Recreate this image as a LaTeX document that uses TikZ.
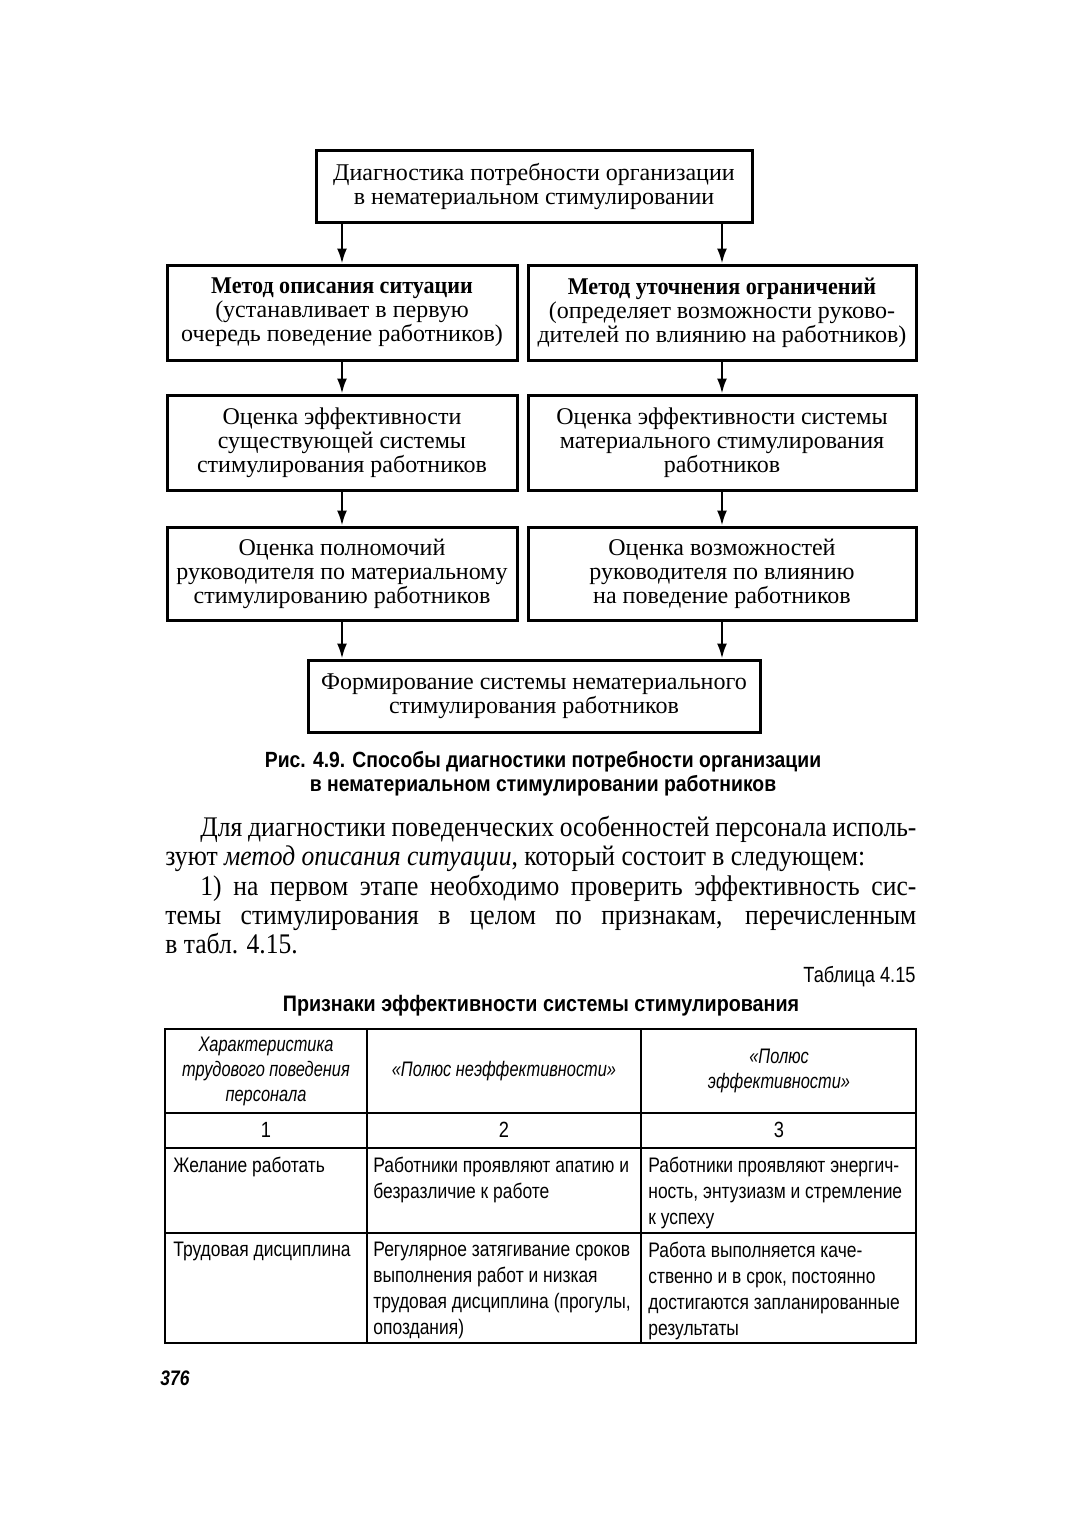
\documentclass[tikz,border=0pt]{standalone}
\usepackage{fontspec}
\setmainfont{Liberation Serif}[BoldFeatures={FakeStretch=0.92}]
\newfontfamily\bodyfont[FakeStretch=0.9]{Liberation Serif}
\newfontfamily\narrowsans[FakeStretch=0.83]{Liberation Sans}
\newfontfamily\headsans[FakeStretch=0.78]{Liberation Sans}
\newfontfamily\capsans[FakeStretch=0.88]{Liberation Sans}
\usetikzlibrary{arrows.meta}

\begin{document}
\begin{tikzpicture}[
x=0.5pt, y=-0.5pt,
box/.style={
draw,
line width=1.5pt,
align=center,
inner sep=0pt,
font=\fontsize{12}{12}\selectfont
},
flow/.style={-{Latex[length=7.5pt,width=5pt]}, line width=1.1pt},
textline/.style={anchor=base west, inner sep=0pt, font=\bodyfont\fontsize{14.2}{15}\selectfont},
cell/.style={anchor=north west, align=left, inner sep=0pt, font=\narrowsans\fontsize{10.5}{13}\selectfont},
headcell/.style={align=center, inner sep=0pt, font=\headsans\itshape\fontsize{10.5}{12.5}\selectfont}
]
\useasboundingbox (0,0) rectangle (1078,1532);

% scheme
\node[box, minimum width=218pt, minimum height=36pt] (T) at (534,186)
{Диагностика потребности организации\\в нематериальном стимулировании};

\node[box, minimum width=175pt, minimum height=47.5pt] (L1) at (342,312.5)
{\textbf{Метод описания ситуации}\\(устанавливает в первую\\очередь поведение работников)};

\node[box, minimum width=194pt, minimum height=47.5pt] (R1) at (722,312.5)
{\textbf{Метод уточнения ограничений}\\(определяет возможности руково-\\дителей по влиянию на работников)};

\node[box, minimum width=175pt, minimum height=47.5pt] (L2) at (342,442.5)
{Оценка эффективности\\существующей системы\\стимулирования работников};

\node[box, minimum width=194pt, minimum height=47.5pt] (R2) at (722,442.5)
{Оценка эффективности системы\\материального стимулирования\\работников};

\node[box, minimum width=175pt, minimum height=46.5pt] (L3) at (342,573.5)
{Оценка полномочий\\руководителя по материальному\\стимулированию работников};

\node[box, minimum width=194pt, minimum height=46.5pt] (R3) at (722,573.5)
{Оценка возможностей\\руководителя по влиянию\\на поведение работников};

\node[box, minimum width=226pt, minimum height=36pt] (F) at (534,696)
{Формирование системы нематериального\\стимулирования работников};

\draw[flow] (T.south -| L1.north) -- (L1.north);
\draw[flow] (T.south -| R1.north) -- (R1.north);
\draw[flow] (L1) -- (L2);
\draw[flow] (R1) -- (R2);
\draw[flow] (L2) -- (L3);
\draw[flow] (R2) -- (R3);
\draw[flow] (L3.south) -- (L3.south |- F.north);
\draw[flow] (R3.south) -- (R3.south |- F.north);

\node[align=center, inner sep=0pt, font=\capsans\bfseries\fontsize{11}{11.8}\selectfont] (cap) at (543,774)
{Рис. 4.9. Способы диагностики потребности организации\\в нематериальном стимулировании работников};

% text
\node[textline] (p1) at (200,836) {\makebox[358pt][s]{Для диагностики поведенческих особенностей персонала исполь-}};
\node[textline] (p2) at (165,865) {зуют \textit{метод описания ситуации}, который состоит в следующем:};
\node[textline] (p3) at (200,895) {\makebox[358pt][s]{1) на первом этапе необходимо проверить эффективность сис-}};
\node[textline] (p4) at (165,924) {\makebox[375.5pt][s]{темы стимулирования в целом по признакам, перечисленным}};
\node[textline] (p5) at (165,953) {в табл. 4.15.};

\node[anchor=east, inner sep=0pt, font=\narrowsans\fontsize{11}{12}\selectfont] (tnum) at (916,977) {Таблица 4.15};
\node[inner sep=0pt, font=\capsans\bfseries\fontsize{11.2}{12}\selectfont] (ttl) at (541,1006) {Признаки эффективности системы стимулирования};

% table
\draw[line width=1pt] (165,1029) rectangle (916,1343);
\draw[line width=1pt] (165,1113) -- (916,1113);
\draw[line width=1pt] (165,1148) -- (916,1148);
\draw[line width=1pt] (165,1233) -- (916,1233);
\draw[line width=1pt] (367,1029) -- (367,1343);
\draw[line width=1pt] (641,1029) -- (641,1343);

\node[headcell] (h1) at (266,1071) {Характеристика\\трудового поведения\\персонала};
\node[headcell] (h2) at (504,1071) {«Полюс неэффективности»};
\node[headcell] (h3) at (779,1071) {«Полюс\\эффективности»};

\node[headcell, font=\narrowsans\fontsize{11}{12}\selectfont] (n1) at (266,1130) {1};
\node[headcell, font=\narrowsans\fontsize{11}{12}\selectfont] (n2) at (504,1130) {2};
\node[headcell, font=\narrowsans\fontsize{11}{12}\selectfont] (n3) at (779,1130) {3};

\node[cell] (a1) at (173,1157) {Желание работать};
\node[cell] (a2) at (373,1157) {Работники проявляют апатию и\\безразличие к работе};
\node[cell] (a3) at (648,1157) {Работники проявляют энергич-\\ность, энтузиазм и стремление\\к успеху};

\node[cell] (b1) at (173,1242) {Трудовая дисциплина};
\node[cell] (b2) at (373,1242) {Регулярное затягивание сроков\\выполнения работ и низкая\\трудовая дисциплина (прогулы,\\опоздания)};
\node[cell] (b3) at (648,1242) {Работа выполняется каче-\\ственно и в срок, постоянно\\достигаются запланированные\\результаты};

\node[anchor=west, inner sep=0pt, font=\narrowsans\bfseries\itshape\fontsize{10.5}{12}\selectfont] (pg) at (160,1378) {376};

\end{tikzpicture}
\end{document}
